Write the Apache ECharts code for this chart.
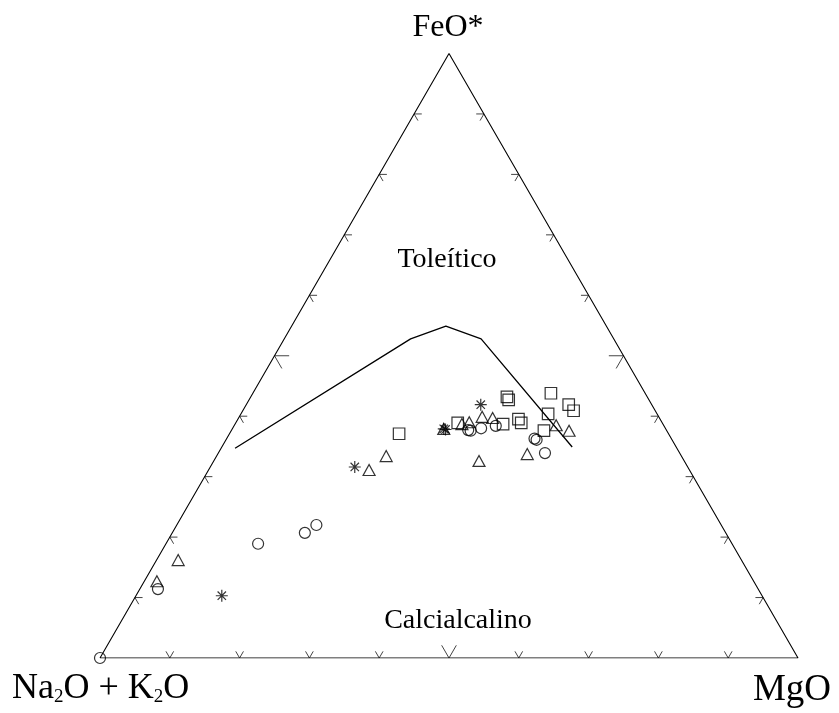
<!DOCTYPE html>
<html><head><meta charset="utf-8">
<script src="https://cdn.jsdelivr.net/npm/echarts@6/dist/echarts.min.js"></script>
<style>html,body{margin:0;padding:0;background:#fff}#c{width:839px;height:713px}</style>
</head><body><div id="c"></div>
<script>
// Compositions as [Na2O+K2O, FeO*, MgO] (%)
const vertexNames = ['Na{s|2}O + K{s|2}O', 'FeO*', 'MgO'];
const fieldNames = ['Toleítico', 'Calcialcalino'];
const tickValues = [10, 20, 30, 40, 50, 60, 70, 80, 90];
const frameVertices = [[100, 0, 0], [0, 100, 0], [0, 0, 100], [100, 0, 0]];
const divisionLine = [[63.3, 34.7, 2.0], [29.1, 52.8, 18.1], [23.0, 54.9, 22.1], [19.0, 52.8, 28.2], [14.9, 34.9, 50.2]];
const circles = [
  [100, 0, 0], [86.0, 11.4, 2.6], [67.9, 18.9, 13.2], [60.3, 20.7, 19.0], [58.0, 22.0, 20.0],
  [28.4, 37.7, 33.9], [28.1, 37.6, 34.3], [26.4, 38.0, 35.6], [24.1, 38.4, 37.5],
  [19.4, 36.1, 44.5], [19.6, 36.3, 44.1], [19.3, 33.9, 46.8]
];
const triangles = [
  [85.5, 12.7, 1.8], [80.7, 16.2, 3.1], [45.9, 31.1, 23.0], [42.3, 33.4, 24.3], [31.8, 37.9, 30.3],
  [28.8, 38.7, 32.5], [27.6, 39.0, 33.4], [25.3, 39.9, 34.8], [23.9, 39.7, 36.4],
  [29.4, 32.6, 38.0], [21.9, 33.7, 44.3], [15.4, 38.5, 46.1], [14.0, 37.6, 48.4]
];
const squares = [
  [38.6, 37.1, 24.3], [29.3, 38.9, 31.8], [22.9, 38.7, 38.4], [20.1, 43.2, 36.7], [20.1, 42.7, 37.2],
  [20.3, 39.5, 40.2], [20.2, 38.9, 40.9], [13.5, 43.8, 42.7], [15.6, 40.4, 44.0], [17.6, 37.6, 44.8],
  [11.9, 41.9, 46.2], [11.7, 40.9, 47.4]
];
const asterisks = [
  [77.4, 10.3, 12.3], [47.7, 31.6, 20.7], [31.8, 37.9, 30.3], [31.6, 37.8, 30.6], [24.5, 41.9, 33.6]
];

const H = Math.sqrt(3) / 2;
function toXY(p) {
  const s = p[0] + p[1] + p[2];
  const F = p[1] / s * 100, M = p[2] / s * 100;
  return [M + F / 2, F * H];
}
const hollow = { color: 'rgba(0,0,0,0)', borderColor: '#000', borderWidth: 1.2 };
const serif = '"Liberation Serif", "Times New Roman", serif';

const chart = echarts.init(document.getElementById('c'), null, { renderer: 'canvas' });
chart.setOption({
  animation: false,
  backgroundColor: '#fff',
  grid: { left: 100, right: 41, top: 53.5, bottom: 55 },
  xAxis: { type: 'value', min: 0, max: 100, show: false },
  yAxis: { type: 'value', min: 0, max: 100 * H, show: false },
  series: [
    {
      type: 'line', data: frameVertices.map(toXY), symbol: 'none', silent: true,
      lineStyle: { color: '#000', width: 1.1 }, z: 1
    },
    {
      type: 'custom', data: tickValues.map(t => [t, 0]), silent: true, clip: false, z: 1,
      renderItem: function (params, api) {
        const t = api.value(0);
        const L = t === 50 ? 2.1 : 1.1;
        const c = 0.5 * L, s = H * L;
        const b = [t, 0], l = [t / 2, t * H], r = [100 - t / 2, t * H];
        const shapes = [
          [[b[0] - c, b[1] + s], b, [b[0] + c, b[1] + s]],
          [[l[0] + L, l[1]], l, [l[0] + c, l[1] - s]],
          [[r[0] - L, r[1]], r, [r[0] - c, r[1] - s]]
        ];
        return {
          type: 'group',
          children: shapes.map(pts => ({
            type: 'polyline',
            shape: { points: pts.map(p => api.coord(p)) },
            style: { stroke: '#444', lineWidth: 1, fill: null }
          }))
        };
      }
    },
    {
      type: 'line', data: divisionLine.map(toXY), symbol: 'none', silent: true,
      lineStyle: { color: '#000', width: 1.3 }, z: 2
    },
    { type: 'scatter', name: 'circle', data: circles.map(toXY), symbol: 'circle', symbolSize: 11, itemStyle: hollow, z: 3 },
    { type: 'scatter', name: 'triangle', data: triangles.map(toXY), symbol: 'triangle', symbolSize: [12, 11], itemStyle: hollow, z: 3 },
    { type: 'scatter', name: 'square', data: squares.map(toXY), symbol: 'rect', symbolSize: 11.5, itemStyle: hollow, z: 3 },
    {
      type: 'scatter', name: 'asterisk', data: asterisks.map(toXY),
      symbol: 'path://M5 0L5 10M0 5L10 5M1.5 1.5L8.5 8.5M8.5 1.5L1.5 8.5', symbolSize: 12,
      itemStyle: hollow, z: 3
    }
  ],
  graphic: [
    { type: 'text', left: 12, top: 671, style: { text: vertexNames[0], font: '36px ' + serif, fill: '#000',
      rich: { s: { fontSize: 19, fontFamily: serif, padding: [16, 0, 0, 0] } } } },
    { type: 'text', x: 448, y: 28, style: { text: vertexNames[1], font: '32px ' + serif, fill: '#000', textAlign: 'center', textVerticalAlign: 'middle' } },
    { type: 'text', x: 831, y: 690, style: { text: vertexNames[2], font: '37px ' + serif, fill: '#000', textAlign: 'right', textVerticalAlign: 'middle' } },
    { type: 'text', x: 447, y: 260, style: { text: fieldNames[0], font: '28px ' + serif, fill: '#000', textAlign: 'center', textVerticalAlign: 'middle' } },
    { type: 'text', x: 458, y: 621, style: { text: fieldNames[1], font: '28px ' + serif, fill: '#000', textAlign: 'center', textVerticalAlign: 'middle' } }
  ]
});
</script></body></html>
